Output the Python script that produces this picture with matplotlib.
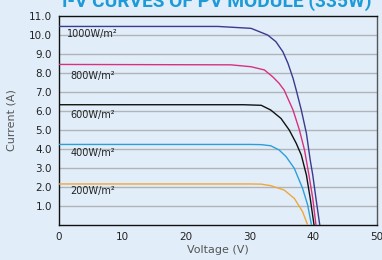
import numpy as np
import matplotlib
matplotlib.use("Agg")
import matplotlib.pyplot as plt

# I-V curves, one per irradiance level
v_1000 = [0, 25, 30.2, 32.8, 34.1, 35.2, 36.0, 36.8, 37.3, 38.1, 38.9, 39.5, 39.9, 40.4, 41.0]
i_1000 = [10.45, 10.45, 10.35, 10.0, 9.65, 9.12, 8.51, 7.72, 7.1, 6.05, 4.83, 3.42, 2.63, 1.4, 0]

v_800 = [0, 27, 30.2, 32.3, 33.6, 34.6, 35.4, 36.8, 37.8, 38.6, 39.3, 39.9, 40.4]
i_800 = [8.45, 8.43, 8.33, 8.16, 7.8, 7.46, 7.1, 6.05, 5.0, 3.95, 2.63, 1.4, 0]

v_600 = [0, 29, 31.8, 33.3, 34.9, 36.2, 37.3, 38.1, 38.9, 39.5, 40.1]
i_600 = [6.33, 6.33, 6.3, 6.05, 5.61, 5.0, 4.3, 3.68, 2.63, 1.4, 0]

v_400 = [0, 30, 31.8, 33.3, 34.6, 35.7, 37.0, 38.3, 39.1, 39.7]
i_400 = [4.24, 4.24, 4.23, 4.17, 3.95, 3.6, 2.98, 1.93, 1.05, 0]

v_200 = [0, 30, 31.8, 33.3, 35.4, 37.0, 38.3, 39.1]
i_200 = [2.16, 2.16, 2.15, 2.07, 1.84, 1.4, 0.7, 0]

labels = ["1000W/m²", "800W/m²", "600W/m²", "400W/m²", "200W/m²"]
label_x = [1.3, 1.8, 1.8, 1.8, 1.8]
label_y = [10.05, 7.85, 5.8, 3.8, 1.8]
colors = ["#3a3a8e", "#d8317f", "#111111", "#2b9fdc", "#efa73a"]

yticks = [1, 2, 3, 4, 5, 6, 7, 8, 9, 10, 11]
xticks = [0, 10, 20, 30, 40, 50]

bg = "#e1eef9"
fig = plt.figure(figsize=(3.82, 2.60), dpi=100, facecolor=bg)
ax = fig.add_axes([59 / 382, 35 / 260, 318 / 382, 209 / 260], facecolor=bg)

for y in yticks[:-1]:
    ax.axhline(y, color="#b0b4b8", lw=1.0, zorder=1)

curves = [(v_1000, i_1000), (v_800, i_800), (v_600, i_600), (v_400, i_400), (v_200, i_200)]
for (v, i), c, lab, lx, ly in zip(curves, colors, labels, label_x, label_y):
    ax.plot(v, i, color=c, lw=1.0, zorder=3, solid_joinstyle="round")
    ax.text(lx, ly, lab, fontsize=7, color="#222222", va="center", ha="left", zorder=4)

ax.set_xlim(0, 50)
ax.set_ylim(0, 11)
ax.set_xticks(xticks)
ax.set_xticklabels([str(x) for x in xticks])
ax.set_yticks(yticks)
ax.set_yticklabels(["%.1f" % y for y in yticks])
ax.tick_params(length=0, labelsize=7.5, colors="#222222", pad=5)
for s in ["left", "bottom", "top"]:
    ax.spines[s].set_color("#111111")
ax.spines["right"].set_color("#555555")
for s in ax.spines.values():
    s.set_linewidth(1.0)

ax.set_xlabel("Voltage (V)", fontsize=8, color="#555555", labelpad=2)
ax.set_ylabel("Current (A)", fontsize=8, color="#555555", labelpad=9)

# title sits mostly above the canvas in the original, only its lower half shows
fig.text(217 / 382, 1 - 7 / 260, "I-V CURVES OF PV MODULE (335W)",
         family=["Roboto", "DejaVu Sans"], fontweight="bold",
         fontsize=13.8, color="#1d9ad8", ha="center", va="baseline")

fig.savefig("out.png", dpi=100, facecolor=bg)
